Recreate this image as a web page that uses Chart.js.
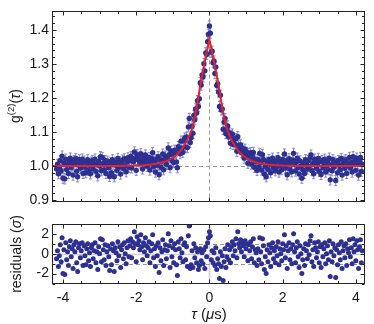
<!DOCTYPE html>
<html>
<head>
<meta charset="utf-8">
<script src="https://cdn.jsdelivr.net/npm/chart.js@4.4.1/dist/chart.umd.min.js"></script>
<style>
  body { margin: 0; background: #fff; overflow: hidden; }
  #wrap { position: relative; width: 374px; height: 324px; }
  #wrap canvas { position: absolute; left: 0; }
</style>
</head>
<body>
<div id="wrap">
  <canvas id="g2Chart" width="374" height="213" style="top:0"></canvas>
  <canvas id="resChart" width="374" height="111" style="top:213px"></canvas>
</div>
<script>
// time bins (us)
const tauStart = -4.175;
const tauStep = 0.025;

// measured g2(tau)
const gData = [
  0.991, 1.005, 0.977, 0.996, 1.016, 0.986, 1.029, 0.964, 1.007, 0.962,
  1.020, 0.989, 1.004, 0.978, 1.013, 1.023, 0.995, 1.009, 0.973, 1.016,
  1.004, 1.022, 0.984, 0.968, 1.011, 1.018, 0.993, 1.005, 1.020, 0.978,
  1.014, 0.996, 0.980, 1.009, 1.018, 0.987, 1.002, 0.977, 1.011, 1.016,
  0.991, 1.005, 1.020, 0.984, 1.004, 0.971, 1.013, 1.000, 1.027, 0.986,
  1.025, 1.007, 0.989, 1.016, 0.978, 1.004, 1.014, 0.995, 0.969, 1.009,
  0.980, 1.018, 1.005, 0.968, 1.011, 1.002, 0.987, 1.022, 0.996, 1.013,
  0.976, 1.008, 1.017, 0.992, 1.021, 1.001, 0.983, 1.012, 1.024, 0.996,
  1.015, 1.028, 0.994, 1.023, 1.012, 1.041, 1.019, 0.987, 1.033, 1.018,
  1.025, 1.009, 1.036, 1.015, 0.991, 1.023, 1.007, 1.032, 1.017, 0.999,
  1.014, 1.025, 0.988, 1.009, 1.022, 1.039, 0.998, 1.014, 0.982, 1.019,
  1.002, 1.027, 0.974, 1.019, 0.996, 1.013, 1.035, 0.989, 1.019, 1.029,
  1.005, 1.020, 1.053, 1.032, 0.995, 1.044, 1.017, 1.035, 1.010, 1.046,
  1.037, 1.012, 0.995, 1.057, 1.049, 1.036, 1.073, 1.052, 1.040, 1.074,
  1.082, 1.056, 1.085, 1.054, 1.115, 1.140, 1.069, 1.083, 1.117, 1.096,
  1.149, 1.136, 1.168, 1.156, 1.192, 1.175, 1.198, 1.245, 1.238, 1.268,
  1.262, 1.301, 1.280, 1.333, 1.328, 1.366, 1.388, 1.412, 1.391, 1.335,
  1.338, 1.304, 1.309, 1.272, 1.291, 1.237, 1.242, 1.218, 1.175, 1.208,
  1.165, 1.168, 1.108, 1.129, 1.140, 1.095, 1.106, 1.118, 1.085, 1.097,
  1.067, 1.090, 1.094, 1.063, 1.078, 1.063, 1.081, 1.043, 1.086, 1.061,
  1.051, 1.062, 1.039, 1.052, 1.044, 1.023, 1.049, 1.033, 1.040, 1.008,
  1.036, 1.023, 1.039, 1.006, 1.027, 1.040, 0.996, 1.018, 1.012, 0.987,
  1.018, 0.997, 1.037, 1.011, 0.988, 1.033, 1.019, 0.976, 0.999, 0.968,
  1.011, 0.990, 1.019, 1.005, 0.980, 1.014, 1.023, 0.994, 1.008, 0.986,
  1.015, 0.998, 1.024, 0.982, 1.011, 1.002, 0.989, 1.019, 1.008, 1.035,
  0.994, 1.015, 0.974, 1.006, 1.021, 0.990, 1.010, 0.983, 1.017, 1.037,
  1.005, 0.985, 1.012, 1.023, 0.996, 0.976, 1.015, 1.000, 0.964, 0.989,
  1.009, 0.978, 1.018, 1.005, 0.991, 1.016, 0.998, 1.023, 1.032, 0.986,
  1.007, 0.977, 1.020, 1.011, 0.993, 1.004, 1.022, 0.984, 1.013, 0.975,
  1.016, 0.995, 1.009, 1.020, 0.982, 1.000, 1.014, 0.989, 1.023, 0.959,
  1.004, 0.986, 1.018, 0.996, 1.011, 0.957, 1.007, 0.980, 1.016, 1.002,
  0.989, 1.022, 0.973, 1.005, 1.014, 0.993, 1.018, 0.978, 1.009, 1.002,
  1.025, 0.995, 1.011, 0.982, 1.027, 1.004, 1.016, 0.987, 1.023, 1.007,
  0.973, 1.013, 1.025, 0.984, 1.005
];
const gErr = 0.015;

// normalised residuals (sigma)
const residuals = [
  -0.5, 0.3, -1.3, -0.2, 0.9, -0.8, 1.6, -2.0, 0.4, -2.1,
  1.1, -0.6, 0.2, -1.2, 0.7, 1.3, -0.3, 0.5, -1.5, 0.9,
  0.2, 1.2, -0.9, -1.8, 0.6, 1.0, -0.4, 0.3, 1.1, -1.2,
  0.8, -0.2, -1.1, 0.5, 1.0, -0.7, 0.1, -1.3, 0.6, 0.9,
  -0.5, 0.3, 1.1, -0.9, 0.2, -1.6, 0.7, 0.0, 1.5, -0.8,
  1.4, 0.4, -0.6, 0.9, -1.2, 0.2, 0.8, -0.3, -1.7, 0.5,
  -1.1, 1.0, 0.3, -1.8, 0.6, 0.1, -0.7, 1.2, -0.2, 0.7,
  -1.4, 0.4, 0.9, -0.5, 1.1, 0.0, -1.0, 0.6, 1.3, -0.3,
  0.8, 1.5, -0.4, 1.2, 0.6, 2.2, 1.0, -0.8, 1.7, 0.9,
  1.3, 0.4, 1.9, 0.7, -0.6, 1.1, 0.2, 1.6, 0.8, -0.2,
  0.6, 1.2, -0.9, 0.3, 1.0, 1.9, -0.4, 0.5, -1.3, 0.8,
  -0.2, 1.1, -1.9, 0.6, -0.7, 0.2, 1.4, -1.2, 0.4, 0.9,
  -0.5, 0.3, 2.0, 0.8, -1.4, 1.3, -0.3, 0.6, -0.9, 1.0,
  0.4, -1.1, -2.2, 1.2, 0.5, -0.4, 1.5, 0.1, -0.8, 0.9,
  1.1, -0.6, 0.7, -1.3, 1.8, 2.8, -1.5, -1.1, 0.3, -1.4,
  1.0, -0.4, 0.6, -0.9, 0.2, -1.6, -1.2, 0.5, -0.7, 0.1,
  -1.0, 0.4, -1.5, 0.7, -0.3, 1.1, 1.6, 2.2, 1.8, -0.6,
  0.3, -0.9, 0.1, -1.2, 0.6, -1.6, -0.5, -1.0, -2.5, 0.2,
  -1.3, -0.2, -2.7, -0.8, 0.5, -1.4, -0.3, 0.9, -0.6, 0.4,
  -0.9, 0.7, 1.2, -0.2, 0.9, 0.3, 1.5, -0.4, 2.2, 1.0,
  0.6, 1.4, 0.2, 1.1, 0.8, -0.3, 1.3, 0.5, 1.0, -0.7,
  0.9, 0.3, 1.2, -0.5, 0.7, 1.5, -0.9, 0.4, 0.1, -1.2,
  0.5, -0.6, 1.6, 0.2, -1.0, 1.5, 0.8, -1.6, -0.3, -2.0,
  0.4, -0.8, 0.9, 0.1, -1.3, 0.6, 1.1, -0.5, 0.3, -0.9,
  0.7, -0.2, 1.2, -1.1, 0.5, 0.0, -0.7, 1.0, 0.4, 1.9,
  -0.4, 0.8, -1.5, 0.3, 1.1, -0.6, 0.5, -1.0, 0.9, 2.0,
  0.2, -0.9, 0.6, 1.2, -0.3, -1.4, 0.8, 0.0, -2.0, -0.6,
  0.5, -1.2, 1.0, 0.3, -0.5, 0.9, -0.1, 1.3, 1.8, -0.8,
  0.4, -1.3, 1.1, 0.6, -0.4, 0.2, 1.2, -0.9, 0.7, -1.4,
  0.9, -0.3, 0.5, 1.1, -1.0, 0.0, 0.8, -0.6, 1.3, -2.3,
  0.2, -0.8, 1.0, -0.2, 0.6, -2.4, 0.4, -1.1, 0.9, 0.1,
  -0.6, 1.2, -1.5, 0.3, 0.8, -0.4, 1.0, -1.2, 0.5, 0.1,
  1.4, -0.3, 0.6, -1.0, 1.5, 0.2, 0.9, -0.7, 1.3, 0.4,
  -1.5, 0.7, 1.4, -0.9, 0.3
];

// fit curve
const fitTau = [-4.3, -3.0, -2.5, -2.0, -1.8, -1.6, -1.4, -1.2, -1.0, -0.9,
  -0.8, -0.7, -0.6, -0.5, -0.45, -0.4, -0.35, -0.3, -0.25, -0.2,
  -0.15, -0.1, -0.05, 0, 0.05, 0.1, 0.15, 0.2, 0.25, 0.3,
  0.35, 0.4, 0.45, 0.5, 0.6, 0.7, 0.8, 0.9, 1.0, 1.2,
  1.4, 1.6, 1.8, 2.0, 2.5, 3.0, 4.25];
const fitG = [1.000, 1.000, 1.000, 1.001, 1.002, 1.004, 1.007, 1.013, 1.024, 1.032,
  1.043, 1.058, 1.077, 1.102, 1.120, 1.143, 1.172, 1.204, 1.236, 1.266,
  1.294, 1.320, 1.346, 1.372, 1.346, 1.320, 1.294, 1.266, 1.236, 1.204,
  1.172, 1.143, 1.120, 1.102, 1.077, 1.058, 1.043, 1.032, 1.024, 1.013,
  1.007, 1.004, 1.002, 1.001, 1.000, 1.000, 1.000];

// ticks
const xTickValues = [-4, -2, 0, 2, 4];
const xTickLabels = ['-4', '-2', '0', '2', '4'];
const gTickValues = [0.9, 1.0, 1.1, 1.2, 1.3, 1.4];
const gTickLabels = ['0.9', '1.0', '1.1', '1.2', '1.3', '1.4'];
const resTickValues = [-2, 0, 2];
const resTickLabels = ['-2', '0', '2'];

const tau = gData.map((_, i) => Math.round((tauStart + i * tauStep) * 1000) / 1000);

const FONT = "'Liberation Sans', Arial, Helvetica, sans-serif";
const INK = '#1a1a1a';
const DOT = '#2d3091';
Chart.defaults.font.family = FONT;
Chart.defaults.color = INK;

function fixedTicks(values) {
  return scale => { scale.ticks = values.map(v => ({ value: v })); };
}

function tickMarks(from, to, step, majors) {
  const out = [];
  for (let k = 0; from + k * step <= to + 1e-9; k++) {
    const v = Math.round((from + k * step) * 1000) / 1000;
    out.push({ v: v, len: majors.some(m => Math.abs(m - v) < 1e-6) ? 4 : 2.5 });
  }
  return out;
}

// text with mixed fonts (italic greek, superscript)
function drawRich(ctx, parts, x, y, rotate) {
  ctx.save();
  ctx.translate(x, y);
  if (rotate) ctx.rotate(-Math.PI / 2);
  ctx.textBaseline = 'middle';
  ctx.fillStyle = INK;
  let w = 0;
  parts.forEach(p => { ctx.font = p.font; w += ctx.measureText(p.text).width; });
  let cx = -w / 2;
  parts.forEach(p => {
    ctx.font = p.font;
    ctx.fillText(p.text, cx, p.dy || 0);
    cx += ctx.measureText(p.text).width;
  });
  ctx.restore();
}

// reference lines, box, inward ticks, axis titles
const framePlugin = {
  id: 'frame',
  beforeDatasetsDraw(chart, args, opts) {
    const { ctx, chartArea: a, scales: { x, y } } = chart;
    ctx.save();
    (opts.refLines || []).forEach(r => {
      ctx.beginPath();
      ctx.strokeStyle = r.color;
      ctx.lineWidth = r.width || 1;
      ctx.setLineDash(r.dash || []);
      if (r.axis === 'y') {
        const py = Math.round(y.getPixelForValue(r.value)) + 0.5;
        ctx.moveTo(a.left, py); ctx.lineTo(a.right, py);
      } else {
        const px = Math.round(x.getPixelForValue(r.value)) + 0.5;
        ctx.moveTo(px, a.top); ctx.lineTo(px, a.bottom);
      }
      ctx.stroke();
    });
    ctx.restore();
  },
  afterDraw(chart, args, opts) {
    const { ctx, chartArea: a, scales: { x, y } } = chart;
    const L = Math.round(a.left) + 0.5, R = Math.round(a.right) - 0.5;
    const T = Math.round(a.top) + 0.5, B = Math.round(a.bottom) - 0.5;
    ctx.save();
    ctx.strokeStyle = '#222';
    ctx.lineWidth = 1;
    ctx.beginPath();
    opts.xMarks.forEach(t => {
      const px = Math.round(x.getPixelForValue(t.v)) + 0.5;
      ctx.moveTo(px, B); ctx.lineTo(px, B - t.len);
      ctx.moveTo(px, T); ctx.lineTo(px, T + t.len);
    });
    opts.yMarks.forEach(t => {
      const py = Math.round(y.getPixelForValue(t.v)) + 0.5;
      ctx.moveTo(L, py); ctx.lineTo(L + t.len, py);
      ctx.moveTo(R, py); ctx.lineTo(R - t.len, py);
    });
    ctx.stroke();
    ctx.strokeRect(L, T, R - L, B - T);
    ctx.restore();
    (opts.titles || []).forEach(t => drawRich(ctx, t.parts, t.x, t.y, t.rotate));
  }
};

const errorBarPlugin = {
  id: 'errorBars',
  beforeDatasetsDraw(chart, args, opts) {
    const { ctx, scales: { x, y } } = chart;
    ctx.save();
    ctx.strokeStyle = opts.color;
    ctx.lineWidth = 1;
    ctx.beginPath();
    gData.forEach((g, i) => {
      const px = x.getPixelForValue(tau[i]);
      const y1 = y.getPixelForValue(g - gErr);
      const y2 = y.getPixelForValue(g + gErr);
      ctx.moveTo(px, y1); ctx.lineTo(px, y2);
      ctx.moveTo(px - 1.5, y1); ctx.lineTo(px + 1.5, y1);
      ctx.moveTo(px - 1.5, y2); ctx.lineTo(px + 1.5, y2);
    });
    ctx.stroke();
    ctx.restore();
  }
};

const f14 = '14px ' + FONT;
const i14 = 'italic 14px ' + FONT;

const yAxisBase = {
  afterFit: s => { s.width = 52; },
  grid: { display: false, drawTicks: false },
  border: { display: false },
  ticks: { padding: 3, font: { size: 14 }, color: INK }
};

// top panel: g2(tau)
new Chart(document.getElementById('g2Chart'), {
  type: 'scatter',
  data: {
    datasets: [
      {
        type: 'line',
        data: fitTau.map((t, i) => ({ x: t, y: fitG[i] })),
        borderColor: '#e3222b',
        borderWidth: 2,
        pointRadius: 0,
        tension: 0,
        order: 0
      },
      {
        data: tau.map((t, i) => ({ x: t, y: gData[i] })),
        pointBackgroundColor: DOT,
        pointBorderColor: DOT,
        pointBorderWidth: 0,
        pointRadius: 2.7,
        order: 1
      }
    ]
  },
  options: {
    responsive: false,
    animation: false,
    events: [],
    layout: { padding: { left: 0, right: 9, top: 8, bottom: 10 } },
    plugins: {
      legend: { display: false },
      tooltip: { enabled: false },
      frame: {
        refLines: [
          { axis: 'y', value: 1.0, color: '#9a9a9a', dash: [4, 3] },
          { axis: 'x', value: 0, color: '#9a9a9a', dash: [4, 3] }
        ],
        xMarks: tickMarks(-4, 4, 0.5, xTickValues),
        yMarks: tickMarks(0.9, 1.44, 0.02, gTickValues),
        titles: [{
          parts: [
            { text: 'g', font: f14 },
            { text: '(2)', font: '9.5px ' + FONT, dy: -5 },
            { text: '(', font: f14 },
            { text: 'τ', font: i14 },
            { text: ')', font: f14 }
          ],
          x: 16.5, y: 106, rotate: true
        }]
      },
      errorBars: { color: '#8385cc' }
    },
    scales: {
      x: { type: 'linear', min: -4.3, max: 4.25, display: false },
      y: Object.assign({}, yAxisBase, {
        min: 0.895, max: 1.455,
        afterBuildTicks: fixedTicks(gTickValues),
        ticks: Object.assign({}, yAxisBase.ticks, { callback: (v, i) => gTickLabels[i] })
      })
    }
  },
  plugins: [framePlugin, errorBarPlugin]
});

// bottom panel: residuals
new Chart(document.getElementById('resChart'), {
  type: 'scatter',
  data: {
    datasets: [{
      data: tau.map((t, i) => ({ x: t, y: residuals[i] })),
      pointBackgroundColor: DOT,
      pointBorderColor: DOT,
      pointBorderWidth: 0,
      pointRadius: 2.5
    }]
  },
  options: {
    responsive: false,
    animation: false,
    events: [],
    layout: { padding: { left: 0, right: 9, top: 10, bottom: 0 } },
    plugins: {
      legend: { display: false },
      tooltip: { enabled: false },
      frame: {
        refLines: [
          { axis: 'y', value: 0, color: '#cfcfcf', width: 1.5 },
          { axis: 'x', value: 0, color: '#cfcfcf', width: 1.5 },
          { axis: 'y', value: 1, color: '#9a9a9a', dash: [4, 3] },
          { axis: 'y', value: -1, color: '#9a9a9a', dash: [4, 3] }
        ],
        xMarks: tickMarks(-4, 4, 0.5, xTickValues),
        yMarks: tickMarks(-3, 2, 1, resTickValues),
        titles: [
          {
            parts: [
              { text: 'residuals (', font: f14 },
              { text: 'σ', font: i14 },
              { text: ')', font: f14 }
            ],
            x: 17, y: 41, rotate: true
          },
          {
            parts: [
              { text: 'τ', font: 'italic 15px ' + FONT },
              { text: ' (', font: '15px ' + FONT },
              { text: 'μ', font: 'italic 15px ' + FONT },
              { text: 's)', font: '15px ' + FONT }
            ],
            x: 209, y: 102, rotate: false
          }
        ]
      }
    },
    scales: {
      x: {
        type: 'linear', min: -4.3, max: 4.25,
        afterBuildTicks: fixedTicks(xTickValues),
        afterFit: s => { s.height = 40; },
        grid: { display: false, drawTicks: false },
        border: { display: false },
        ticks: { padding: 6, font: { size: 14 }, color: INK, maxRotation: 0, autoSkip: false,
          callback: (v, i) => xTickLabels[i] }
      },
      y: Object.assign({}, yAxisBase, {
        min: -3.05, max: 2.95,
        afterBuildTicks: fixedTicks(resTickValues),
        ticks: Object.assign({}, yAxisBase.ticks, { callback: (v, i) => resTickLabels[i] })
      })
    }
  },
  plugins: [framePlugin]
});
</script>
</body>
</html>
